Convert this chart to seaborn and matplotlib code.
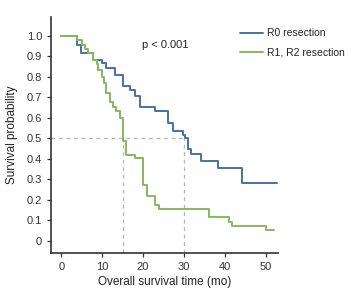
import matplotlib
matplotlib.use('Agg')
import matplotlib.pyplot as plt
import pandas as pd
import seaborn as sns

# Kaplan-Meier steps (time in months, survival probability)
r0_time = [0, 3.8, 4.8, 7.8, 9.9, 11, 13.1, 15.1, 16.7, 18, 19.2, 22.8, 26, 27.2,
           29.7, 30.3, 31, 31.8, 34.1, 38.2, 44.1, 52.7]
r0_surv = [1.0, 0.955, 0.915, 0.883, 0.865, 0.842, 0.806, 0.753, 0.737, 0.704, 0.65,
           0.631, 0.574, 0.537, 0.517, 0.50, 0.447, 0.423, 0.387, 0.355, 0.284, 0.284]

r12_time = [0, 3.8, 5.0, 5.7, 6.6, 7.8, 8.7, 9.1, 9.9, 10.4, 10.9, 11.9, 12.7, 13.5,
            14.3, 15.0, 15.8, 18.0, 20.0, 20.9, 23.0, 24.0, 36.2, 41.0, 41.8, 50.0, 52.1]
r12_surv = [1.0, 0.98, 0.956, 0.935, 0.915, 0.883, 0.859, 0.834, 0.80, 0.77, 0.72,
            0.675, 0.65, 0.63, 0.60, 0.484, 0.42, 0.405, 0.27, 0.22, 0.176, 0.153,
            0.114, 0.094, 0.073, 0.054, 0.054]

groups = ['R0 resection', 'R1, R2 resection']
medians = [30, 15]
p_text = 'p < 0.001'
x_ticks = [0, 10, 20, 30, 40, 50]
y_ticks = [0, 0.1, 0.2, 0.3, 0.4, 0.5, 0.6, 0.7, 0.8, 0.9, 1.0]
y_labels = ['0', '0.1', '0.2', '0.3', '0.4', '0.5', '0.6', '0.7', '0.8', '0.9', '1.0']

df = pd.concat([
    pd.DataFrame({'time': r0_time, 'surv': r0_surv, 'group': groups[0]}),
    pd.DataFrame({'time': r12_time, 'surv': r12_surv, 'group': groups[1]}),
])

sns.set_style('ticks')
plt.rcParams['font.family'] = ['Liberation Sans', 'DejaVu Sans']

fig = plt.figure(figsize=(3.52, 2.94), dpi=100)
ax = fig.add_axes([0.145, 0.139, 0.645, 0.803])

# median guide lines
ax.plot([-2.5, max(medians)], [0.5, 0.5], ls=(0, (3, 3)), color='#b5b5b5', lw=0.9)
for m in medians:
    ax.plot([m, m], [-0.06, 0.5], ls=(0, (3, 3)), color='#b5b5b5', lw=0.9)

sns.lineplot(data=df, x='time', y='surv', hue='group', estimator=None, sort=False,
             drawstyle='steps-post', palette=['#4a70a8', '#86b85e'], linewidth=1.4, ax=ax)

ax.text(25.5, 0.955, p_text, ha='center', va='center', fontsize=8, color='#222222')

ax.set_xlim(-2.5, 53)
ax.set_ylim(-0.06, 1.09)
ax.set_xticks(x_ticks)
ax.set_yticks(y_ticks)
ax.set_yticklabels(y_labels)
ax.tick_params(labelsize=8, length=3, width=0.9, color='#333333', labelcolor='#333333')
ax.set_xlabel('Overall survival time (mo)', fontsize=8.5, color='#222222', labelpad=3)
ax.set_ylabel('Survival probability', fontsize=8.5, color='#222222', labelpad=6)
for s in ['left', 'bottom']:
    ax.spines[s].set_linewidth(1.2)
    ax.spines[s].set_color('#333333')
sns.despine(ax=ax)

ax.legend(loc='upper left', bbox_to_anchor=(0.815, 0.97), frameon=False, fontsize=7.5,
          handlelength=2.2, handletextpad=0.4, labelspacing=0.9, borderaxespad=0,
          labelcolor='#222222')

fig.savefig('out.png', dpi=100)
